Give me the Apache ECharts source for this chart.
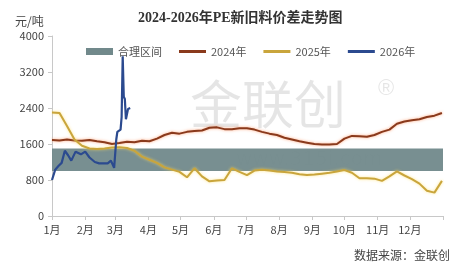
<!DOCTYPE html>
<html><head><meta charset="utf-8">
<script src="https://cdn.jsdelivr.net/npm/echarts@6/dist/echarts.min.js"></script>
<style>html,body{margin:0;padding:0;background:#fff}#c{width:455px;height:266px}</style>
</head><body><div id="c"></div>
<script>
const monthLabels = ['1月','2月','3月','4月','5月','6月','7月','8月','9月','10月','11月','12月'];
const monthStarts = [0,31,59,90,120,151,181,212,243,273,304,334];
const bandRange = [1000,1500];

const weekDates = ['01-01','01-08','01-15','01-22','01-29','02-05','02-12','02-19','02-26','03-05','03-12','03-19','03-26','04-02','04-09','04-16','04-23','04-30','05-07','05-14','05-21','05-28','06-04','06-11','06-18','06-25','07-02','07-09','07-16','07-23','07-30','08-06','08-13','08-20','08-27','09-03','09-10','09-17','09-24','10-01','10-08','10-15','10-22','10-29','11-05','11-12','11-19','11-26','12-03','12-10','12-17','12-24','12-31'];
const vals2024 = [1690,1680,1700,1680,1670,1690,1660,1640,1600,1620,1650,1640,1670,1660,1720,1800,1850,1830,1870,1890,1900,1960,1970,1930,1930,1950,1950,1920,1870,1830,1800,1740,1700,1660,1630,1600,1590,1590,1600,1720,1780,1770,1760,1800,1870,1920,2050,2100,2130,2150,2200,2230,2290];
const vals2025 = [2300,2290,2000,1700,1560,1500,1490,1500,1520,1530,1510,1450,1320,1250,1180,1080,1030,980,860,1060,880,770,790,800,1060,980,910,1010,1030,1010,990,980,960,930,910,920,940,960,990,1020,960,840,840,830,780,880,990,900,820,720,560,520,780];
const dates2026 = ['01-01','01-02','01-04','01-07','01-10','01-13','01-16','01-19','01-23','01-28','02-01','02-05','02-10','02-14','02-22','02-25','02-28','03-02','03-03','03-06','03-07','03-08','03-09','03-10','03-11','03-13','03-15'];
const vals2026 = [800,820,1030,1110,1180,1450,1350,1230,1430,1370,1430,1300,1200,1170,1170,1230,1070,1700,1870,1920,2200,3550,2650,2600,2150,2380,2400];

function dayOf(s){const p=s.split('-');return monthStarts[+p[0]-1]+(+p[1])-1;}
function pairs(d,v){return d.map((s,i)=>[dayOf(s),v[i]]);}

const chart = echarts.init(document.getElementById('c'));
const lab = {color:'#444',fontSize:11,fontFamily:'Noto Sans CJK SC, sans-serif'};
const lineIcon = 'path://M0,0H27V3H0Z';
chart.setOption({
  animation:false,
  title:{text:'2024-2026年PE新旧料价差走势图',left:133,top:6,
    textStyle:{fontSize:14,fontWeight:'bold',color:'#333',fontFamily:'Liberation Serif, Noto Sans CJK SC, serif'}},
  graphic:[
    {type:'text',left:15,top:15,style:{text:'元/吨',fontSize:12,fill:'#444',fontFamily:'Noto Sans CJK SC'}},
    {type:'text',right:5,bottom:5,style:{text:'数据来源：金联创',fontSize:12,fill:'#444',fontFamily:'Noto Sans CJK SC'}},
    {type:'text',left:190,top:78,z:-1,style:{text:'金联创',fontSize:52,fill:'rgba(0,0,0,0.10)',fontFamily:'Noto Sans CJK SC'}},
    {type:'text',left:378,top:78,z:-1,style:{text:'®',fontSize:22,fill:'rgba(0,0,0,0.10)'}},
    {type:'text',left:236,top:150,z:-1,style:{text:'www.315i.com',fontSize:20,fill:'rgba(0,0,0,0.09)',fontFamily:'DejaVu Sans'}}
  ],
  legend:{left:81,top:41,itemWidth:27,itemHeight:7,itemGap:17,
    textStyle:{color:'#555',fontSize:11,fontFamily:'Noto Sans CJK SC'},
    data:[{name:'合理区间',icon:'rect'},{name:'2024年',icon:lineIcon},{name:'2025年',icon:lineIcon},{name:'2026年',icon:lineIcon}]},
  grid:{left:52,right:12,top:36,bottom:50},
  xAxis:{type:'value',min:0,max:365,
    axisLine:{lineStyle:{color:'#c8c8c8'}},
    axisTick:{customValues:monthStarts.concat([365]),length:4,lineStyle:{color:'#c8c8c8'}},
    axisLabel:{customValues:monthStarts,formatter:v=>monthLabels[monthStarts.indexOf(v)],...lab,margin:8},
    splitLine:{show:false}},
  yAxis:{type:'value',min:0,max:4000,interval:800,
    axisLine:{show:true,lineStyle:{color:'#c8c8c8'}},
    axisTick:{show:true,length:4,lineStyle:{color:'#c8c8c8'}},
    axisLabel:{...lab,margin:8,formatter:v=>String(v)},
    splitLine:{show:false}},
  series:[
    {name:'合理区间',type:'line',data:[],color:'#71898b',
      markArea:{silent:true,itemStyle:{color:'#71898b',opacity:0.95},data:[[{yAxis:bandRange[0]},{yAxis:bandRange[1]}]]}},
    {name:'2024年',type:'line',symbol:'none',color:'#8a3a1c',data:pairs(weekDates,vals2024),
      lineStyle:{width:2,color:'#8a3a1c',shadowColor:'rgba(255,130,70,0.7)',shadowBlur:3}},
    {name:'2025年',type:'line',symbol:'none',color:'#c9a53c',data:pairs(weekDates,vals2025),
      lineStyle:{width:2,color:'#c9a53c',shadowColor:'rgba(255,220,90,0.7)',shadowBlur:3}},
    {name:'2026年',type:'line',symbol:'none',color:'#2b4a8f',data:pairs(dates2026,vals2026),
      lineStyle:{width:2.2,color:'#2b4a8f'}}
  ]
});
</script></body></html>
